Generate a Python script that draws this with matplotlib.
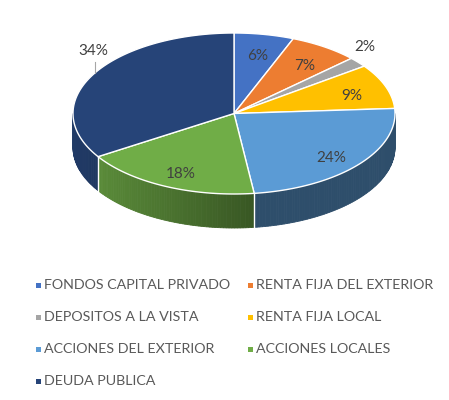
import numpy as np
import matplotlib.pyplot as plt
import matplotlib.colors as mcolors
from matplotlib.patches import Polygon

categories = ["FONDOS CAPITAL PRIVADO", "RENTA FIJA DEL EXTERIOR", "DEPOSITOS A LA VISTA",
              "RENTA FIJA LOCAL", "ACCIONES DEL EXTERIOR", "ACCIONES LOCALES", "DEUDA PUBLICA"]
shares = [6, 7, 2, 9, 24, 18, 34]
colors = ["#4472C4", "#ED7D31", "#A5A5A5", "#FFC000", "#5B9BD5", "#70AD47", "#264478"]

plt.rcParams['font.family'] = ['Lato', 'DejaVu Sans']

# pie geometry in pixels (y grows downward)
cx, cy, rx, ry, depth = 234, 113.5, 161, 80.5, 34

fig = plt.figure(figsize=(4.49, 4.0), dpi=100)
ax = fig.add_axes([0, 0, 1, 1])
ax.set_xlim(0, 449)
ax.set_ylim(400, 0)
ax.axis('off')


def pt(t):
    r = np.radians(t)
    return cx + rx * np.sin(r), cy - ry * np.cos(r)


bounds = np.concatenate([[0], np.cumsum(shares)]) * 360.0 / sum(shares)

# side walls (front half only), shaded darker to the right
for i, (a0, a1) in enumerate(zip(bounds[:-1], bounds[1:])):
    lo, hi = max(a0, 90), min(a1, 270)
    if lo >= hi:
        continue
    base = np.array(mcolors.to_rgb(colors[i]))
    ts = np.linspace(lo, hi, int(hi - lo) + 2)
    for ta, tb in zip(ts[:-1], ts[1:]):
        xa, ya = pt(ta)
        xb, yb = pt(tb)
        k = 0.85 - 0.35 * np.clip(((xa + xb) / 2 - (cx - rx)) / (rx + 20), 0, 1)
        c = np.clip(base * k, 0, 1)
        ax.add_patch(Polygon([(xa, ya), (xb, yb), (xb, yb + depth), (xa, ya + depth)],
                             closed=True, fc=c, ec=c, lw=0.6))

for b in bounds[1:-1]:
    if 90 < b < 270:
        x, y = pt(b)
        ax.plot([x, x], [y, y + depth], color="white", lw=1)

# top face
for i, (a0, a1) in enumerate(zip(bounds[:-1], bounds[1:])):
    ts = np.linspace(a0, a1, int(a1 - a0) + 2)
    arc = [pt(t) for t in ts]
    ax.add_patch(Polygon([(cx, cy)] + arc, closed=True, fc=colors[i], ec="white", lw=1))

# data labels
outside = {2: (7, -15), 6: (0, -24)}
for i, (a0, a1) in enumerate(zip(bounds[:-1], bounds[1:])):
    mid = (a0 + a1) / 2
    txt = f"{shares[i]}%"
    if i in outside:
        ex, ey = pt(mid)
        dx, dy = outside[i]
        ax.text(ex + dx, ey + dy, txt, ha="center", va="center", fontsize=11, color="#404040")
        if i == 6:
            ax.plot([ex + 2, ex + 2], [ey - 2, ey - 13], color="#a6a6a6", lw=0.8)
    else:
        f = 0.78
        x = cx + rx * f * np.sin(np.radians(mid))
        y = cy - ry * f * np.cos(np.radians(mid)) + 4
        ax.text(x, y, txt, ha="center", va="center", fontsize=11, color="#404040")

# legend, two columns
for i, name in enumerate(categories):
    lx = 38 + 212 * (i % 2)
    ly = 285 + 32 * (i // 2)
    ax.add_patch(Polygon([(lx - 2.5, ly - 2.5), (lx + 2.5, ly - 2.5), (lx + 2.5, ly + 2.5), (lx - 2.5, ly + 2.5)],
                         closed=True, fc=colors[i], ec="none"))
    ax.text(lx + 6, ly, name, ha="left", va="center", fontsize=10.3, color="#595959")

fig.savefig("out.png", dpi=100)
